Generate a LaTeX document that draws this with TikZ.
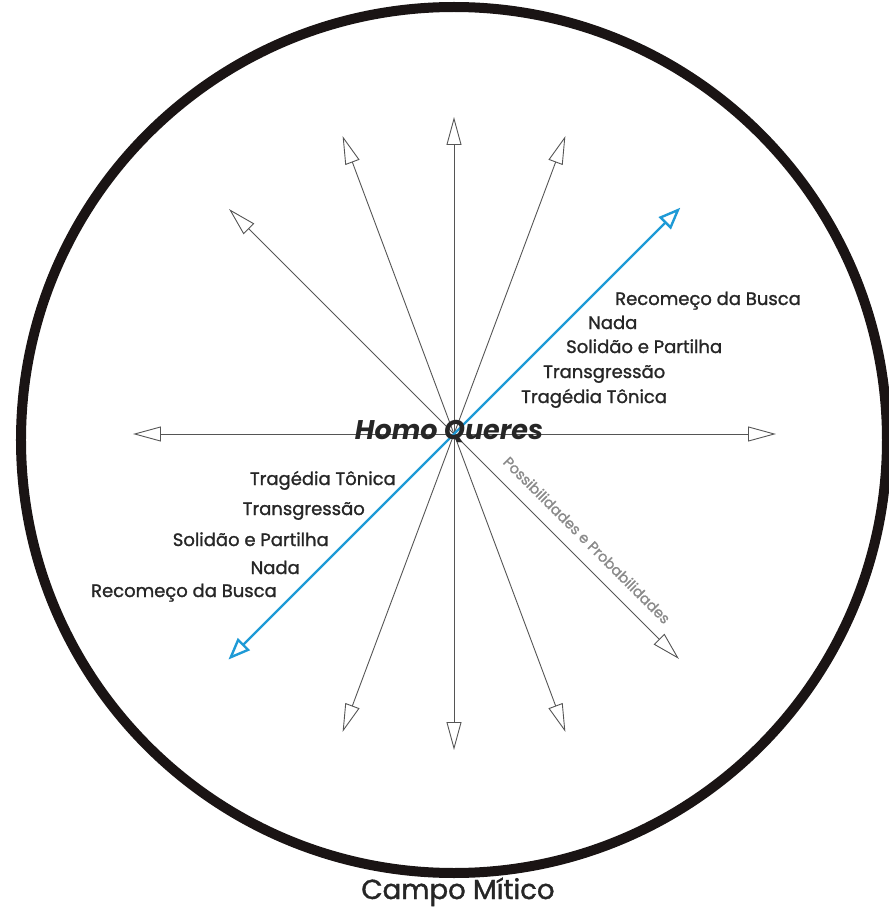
\documentclass[tikz,border=0pt]{standalone}
\usepackage{fontspec}
\setmainfont{Poppins}
\newfontfamily\stagefont{Poppins}[FakeBold=1.3]
\usepackage{tikz}
\usetikzlibrary{arrows.meta}
\definecolor{raygray}{HTML}{555555}
\definecolor{questblue}{HTML}{1E9AD6}
\definecolor{notegray}{HTML}{8A8A8A}
\definecolor{rimblack}{HTML}{1A1414}

\begin{document}
\begin{tikzpicture}[x=1pt,y=1pt,
  ray/.style={draw=raygray, line width=0.9pt,
              -{Triangle[open,length=28pt,width=15pt,fill=white]}},
  quest/.style={draw=questblue, line width=2.4pt,
                -{Triangle[open,length=22pt,width=17pt,fill=white]}},
  stage/.style={font=\stagefont\fontsize{18}{20}\selectfont, text=black!85, inner sep=0pt}
]
  \useasboundingbox (-454,-474) rectangle (435,434);
  \draw[line width=10pt, draw=rimblack] (0,-6) circle (433);
  \coordinate (o) at (0,0);
  % rays of the field
  \foreach \ang/\len/\nm in {0/322/e,69.5/318/nne,90/317/n,110.5/318/nnw,135/318/nw,
                            180/321/w,249.5/318/ssw,270/316/s,290.5/318/sse,315/318/se}{
    \coordinate (\nm) at (\ang:\len);
    \draw[ray] (o) -- (\nm);
  }
  % the quest axis
  \coordinate (qa) at (45:320);
  \coordinate (qb) at (225:319);
  \draw[quest] (o) -- (qa);
  \draw[quest] (o) -- (qb);
  \node[font=\fontsize{27}{29}\selectfont\bfseries\itshape, text=black!85] (hq) at (-5,2) {Homo Queres};
  % upper stages
  \node[stage,anchor=base west] (ua) at (67,31) {Tragédia Tônica};
  \node[stage,anchor=base west] (ub) at (89,56) {Transgressão};
  \node[stage,anchor=base west] (uc) at (112,81) {Solidão e Partilha};
  \node[stage,anchor=base west] (ud) at (134,105) {Nada};
  \node[stage,anchor=base west] (ue) at (161,129) {Recomeço da Busca};
  % lower stages
  \node[stage,anchor=base east] (la) at (-58,-51) {Tragédia Tônica};
  \node[stage,anchor=base east] (lb) at (-89,-81) {Transgressão};
  \node[stage,anchor=base east] (lc) at (-125,-112) {Solidão e Partilha};
  \node[stage,anchor=base east] (ld) at (-154,-140) {Nada};
  \node[stage,anchor=base east] (le) at (-177,-163) {Recomeço da Busca};
  \node[rotate=-45, text=notegray, font=\stagefont\fontsize{14.5}{16}\selectfont] (pp) at (133,-106)
       {Possibilidades e Probabilidades};
  \node[font=\stagefont\fontsize{27.5}{30}\selectfont, text=black!85, anchor=base] (cm) at (4,-465) {Campo Mítico};
\end{tikzpicture}
\end{document}
